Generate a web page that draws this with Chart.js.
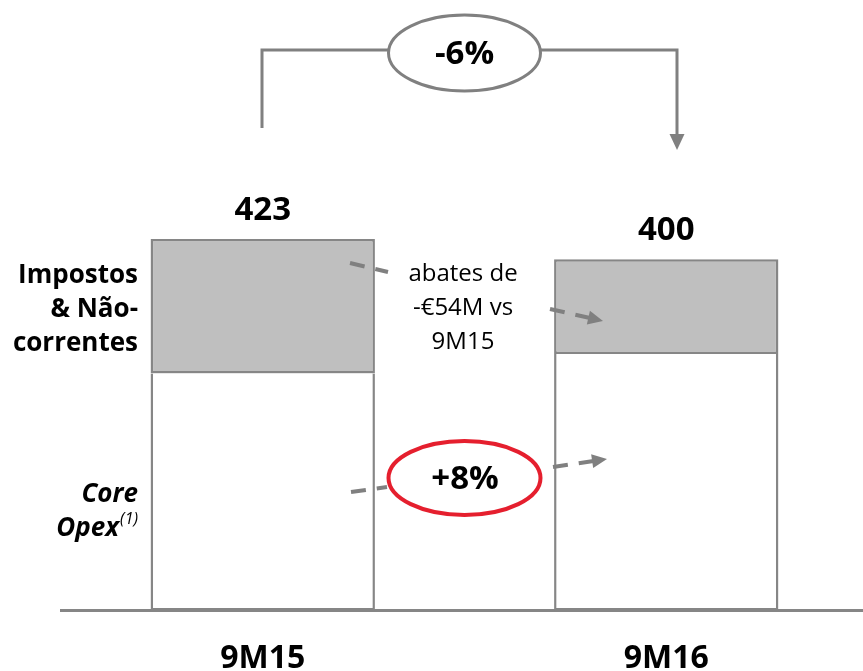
<!DOCTYPE html>
<html>
<head>
<meta charset="utf-8">
<script src="https://cdn.jsdelivr.net/npm/chart.js@4.4.1/dist/chart.umd.min.js"></script>
<style>
  html, body { margin: 0; padding: 0; background: #ffffff; overflow: hidden; }
  #wrap { width: 863px; height: 671px; overflow: hidden; }
  #chart { display: block; }
</style>
</head>
<body>
<div id="wrap"><canvas id="chart" width="870" height="707"></canvas></div>
<script>
// Opex breakdown, € million
const categories = ['9M15', '9M16'];
const coreOpex = [270, 292];
const impostosNaoCorrentes = [153, 108];

const seriesNames = ['Core Opex', 'Impostos & Não-correntes'];
const changeTotal = '-6%';
const changeCore = '+8%';
const noteLines = ['abates de', '-€54M vs', '9M15'];

const GRAY_LINE = '#868686';
const GRAY_FILL = '#bfbfbf';
const ARROW = '#808080';
const RED = '#e51f2e';
const FONT = '"Open Sans", "DejaVu Sans", sans-serif';

function arrowHead(ctx, x0, y0, x1, y1, len, half) {
  const a = Math.atan2(y1 - y0, x1 - x0);
  ctx.beginPath();
  ctx.moveTo(x1, y1);
  ctx.lineTo(x1 - len * Math.cos(a) + half * Math.sin(a), y1 - len * Math.sin(a) - half * Math.cos(a));
  ctx.lineTo(x1 - len * Math.cos(a) - half * Math.sin(a), y1 - len * Math.sin(a) + half * Math.cos(a));
  ctx.closePath();
  ctx.fill();
}

function dashedArrow(ctx, x0, y0, x1, y1, withHead) {
  ctx.save();
  ctx.strokeStyle = ARROW;
  ctx.fillStyle = ARROW;
  ctx.lineWidth = 4;
  ctx.setLineDash([15, 11]);
  const a = Math.atan2(y1 - y0, x1 - x0);
  const ex = withHead ? x1 - 12 * Math.cos(a) : x1;
  const ey = withHead ? y1 - 12 * Math.sin(a) : y1;
  ctx.beginPath();
  ctx.moveTo(x0, y0);
  ctx.lineTo(ex, ey);
  ctx.stroke();
  ctx.setLineDash([]);
  if (withHead) arrowHead(ctx, x0, y0, x1, y1, 15, 7);
  ctx.restore();
}

const decorations = {
  id: 'decorations',
  afterDatasetsDraw(chart) {
    const ctx = chart.ctx;
    const top = chart.getDatasetMeta(1).data;
    ctx.save();

    // totals above each stack
    ctx.fillStyle = '#000';
    ctx.font = 'bold 33px ' + FONT;
    ctx.textAlign = 'center';
    ctx.textBaseline = 'alphabetic';
    top.forEach((bar, i) => {
      const total = coreOpex[i] + impostosNaoCorrentes[i];
      ctx.fillText(String(total), bar.x, bar.y - 19);
    });

    // series names on the left
    ctx.textAlign = 'right';
    ctx.font = 'bold 26px ' + FONT;
    ['Impostos', '& Não-', 'correntes'].forEach((t, k) => ctx.fillText(t, 138, 283 + k * 34));
    ctx.font = 'italic bold 26px ' + FONT;
    ctx.fillText('Core', 138, 502);
    ctx.font = 'italic 16px ' + FONT;
    const sup = '(1)';
    const sw = ctx.measureText(sup).width;
    ctx.fillText(sup, 138, 524);
    ctx.font = 'italic bold 26px ' + FONT;
    ctx.fillText('Opex', 138 - sw - 1, 536);

    // note between the bars
    ctx.textAlign = 'center';
    ctx.font = '24px ' + FONT;
    noteLines.forEach((t, k) => ctx.fillText(t, 463, 281 + k * 34));

    // bracket with total change
    ctx.strokeStyle = ARROW;
    ctx.fillStyle = ARROW;
    ctx.lineWidth = 3;
    ctx.beginPath();
    ctx.moveTo(262, 128);
    ctx.lineTo(262, 50);
    ctx.lineTo(388, 50);
    ctx.moveTo(541, 50);
    ctx.lineTo(677, 50);
    ctx.lineTo(677, 136);
    ctx.stroke();
    arrowHead(ctx, 677, 100, 677, 150, 16, 7.5);
    ctx.beginPath();
    ctx.ellipse(464.5, 53, 76, 38, 0, 0, Math.PI * 2);
    ctx.fillStyle = '#fff';
    ctx.fill();
    ctx.stroke();
    ctx.fillStyle = '#000';
    ctx.font = 'bold 33px ' + FONT;
    ctx.textBaseline = 'middle';
    ctx.fillText(changeTotal, 464.5, 55);

    // core opex change
    ctx.beginPath();
    ctx.ellipse(464.5, 478, 76, 37, 0, 0, Math.PI * 2);
    ctx.strokeStyle = RED;
    ctx.lineWidth = 4;
    ctx.stroke();
    ctx.fillText(changeCore, 465, 480);
    ctx.restore();

    // dashed pointers
    dashedArrow(ctx, 350, 263, 388, 272, false);
    dashedArrow(ctx, 550, 309, 603, 321, true);
    dashedArrow(ctx, 351, 492, 387, 487, false);
    dashedArrow(ctx, 553, 467, 607, 459, true);
  }
};

new Chart(document.getElementById('chart'), {
  type: 'bar',
  data: {
    labels: categories,
    datasets: [
      {
        label: seriesNames[0],
        data: coreOpex,
        backgroundColor: '#ffffff',
        borderColor: GRAY_LINE,
        borderWidth: 2.5,
        borderSkipped: 'top',
        inflateAmount: 0
      },
      {
        label: seriesNames[1],
        data: impostosNaoCorrentes,
        backgroundColor: GRAY_FILL,
        borderColor: GRAY_LINE,
        borderWidth: 2.5,
        borderSkipped: false,
        inflateAmount: 0
      }
    ]
  },
  options: {
    responsive: false,
    animation: false,
    devicePixelRatio: 1,
    categoryPercentage: 1,
    barPercentage: 0.556,
    layout: { padding: { left: 61, right: 2, top: 0, bottom: 0 } },
    plugins: { legend: { display: false }, tooltip: { enabled: false } },
    scales: {
      x: {
        stacked: true,
        grid: { display: false, drawTicks: false },
        border: { display: true, color: GRAY_LINE, width: 3 },
        ticks: { color: '#000', padding: 29, font: { family: FONT, size: 32, weight: 'bold' } }
      },
      y: {
        stacked: true,
        display: false,
        min: 0,
        max: 695
      }
    }
  },
  plugins: [decorations]
});
</script>
</body>
</html>
